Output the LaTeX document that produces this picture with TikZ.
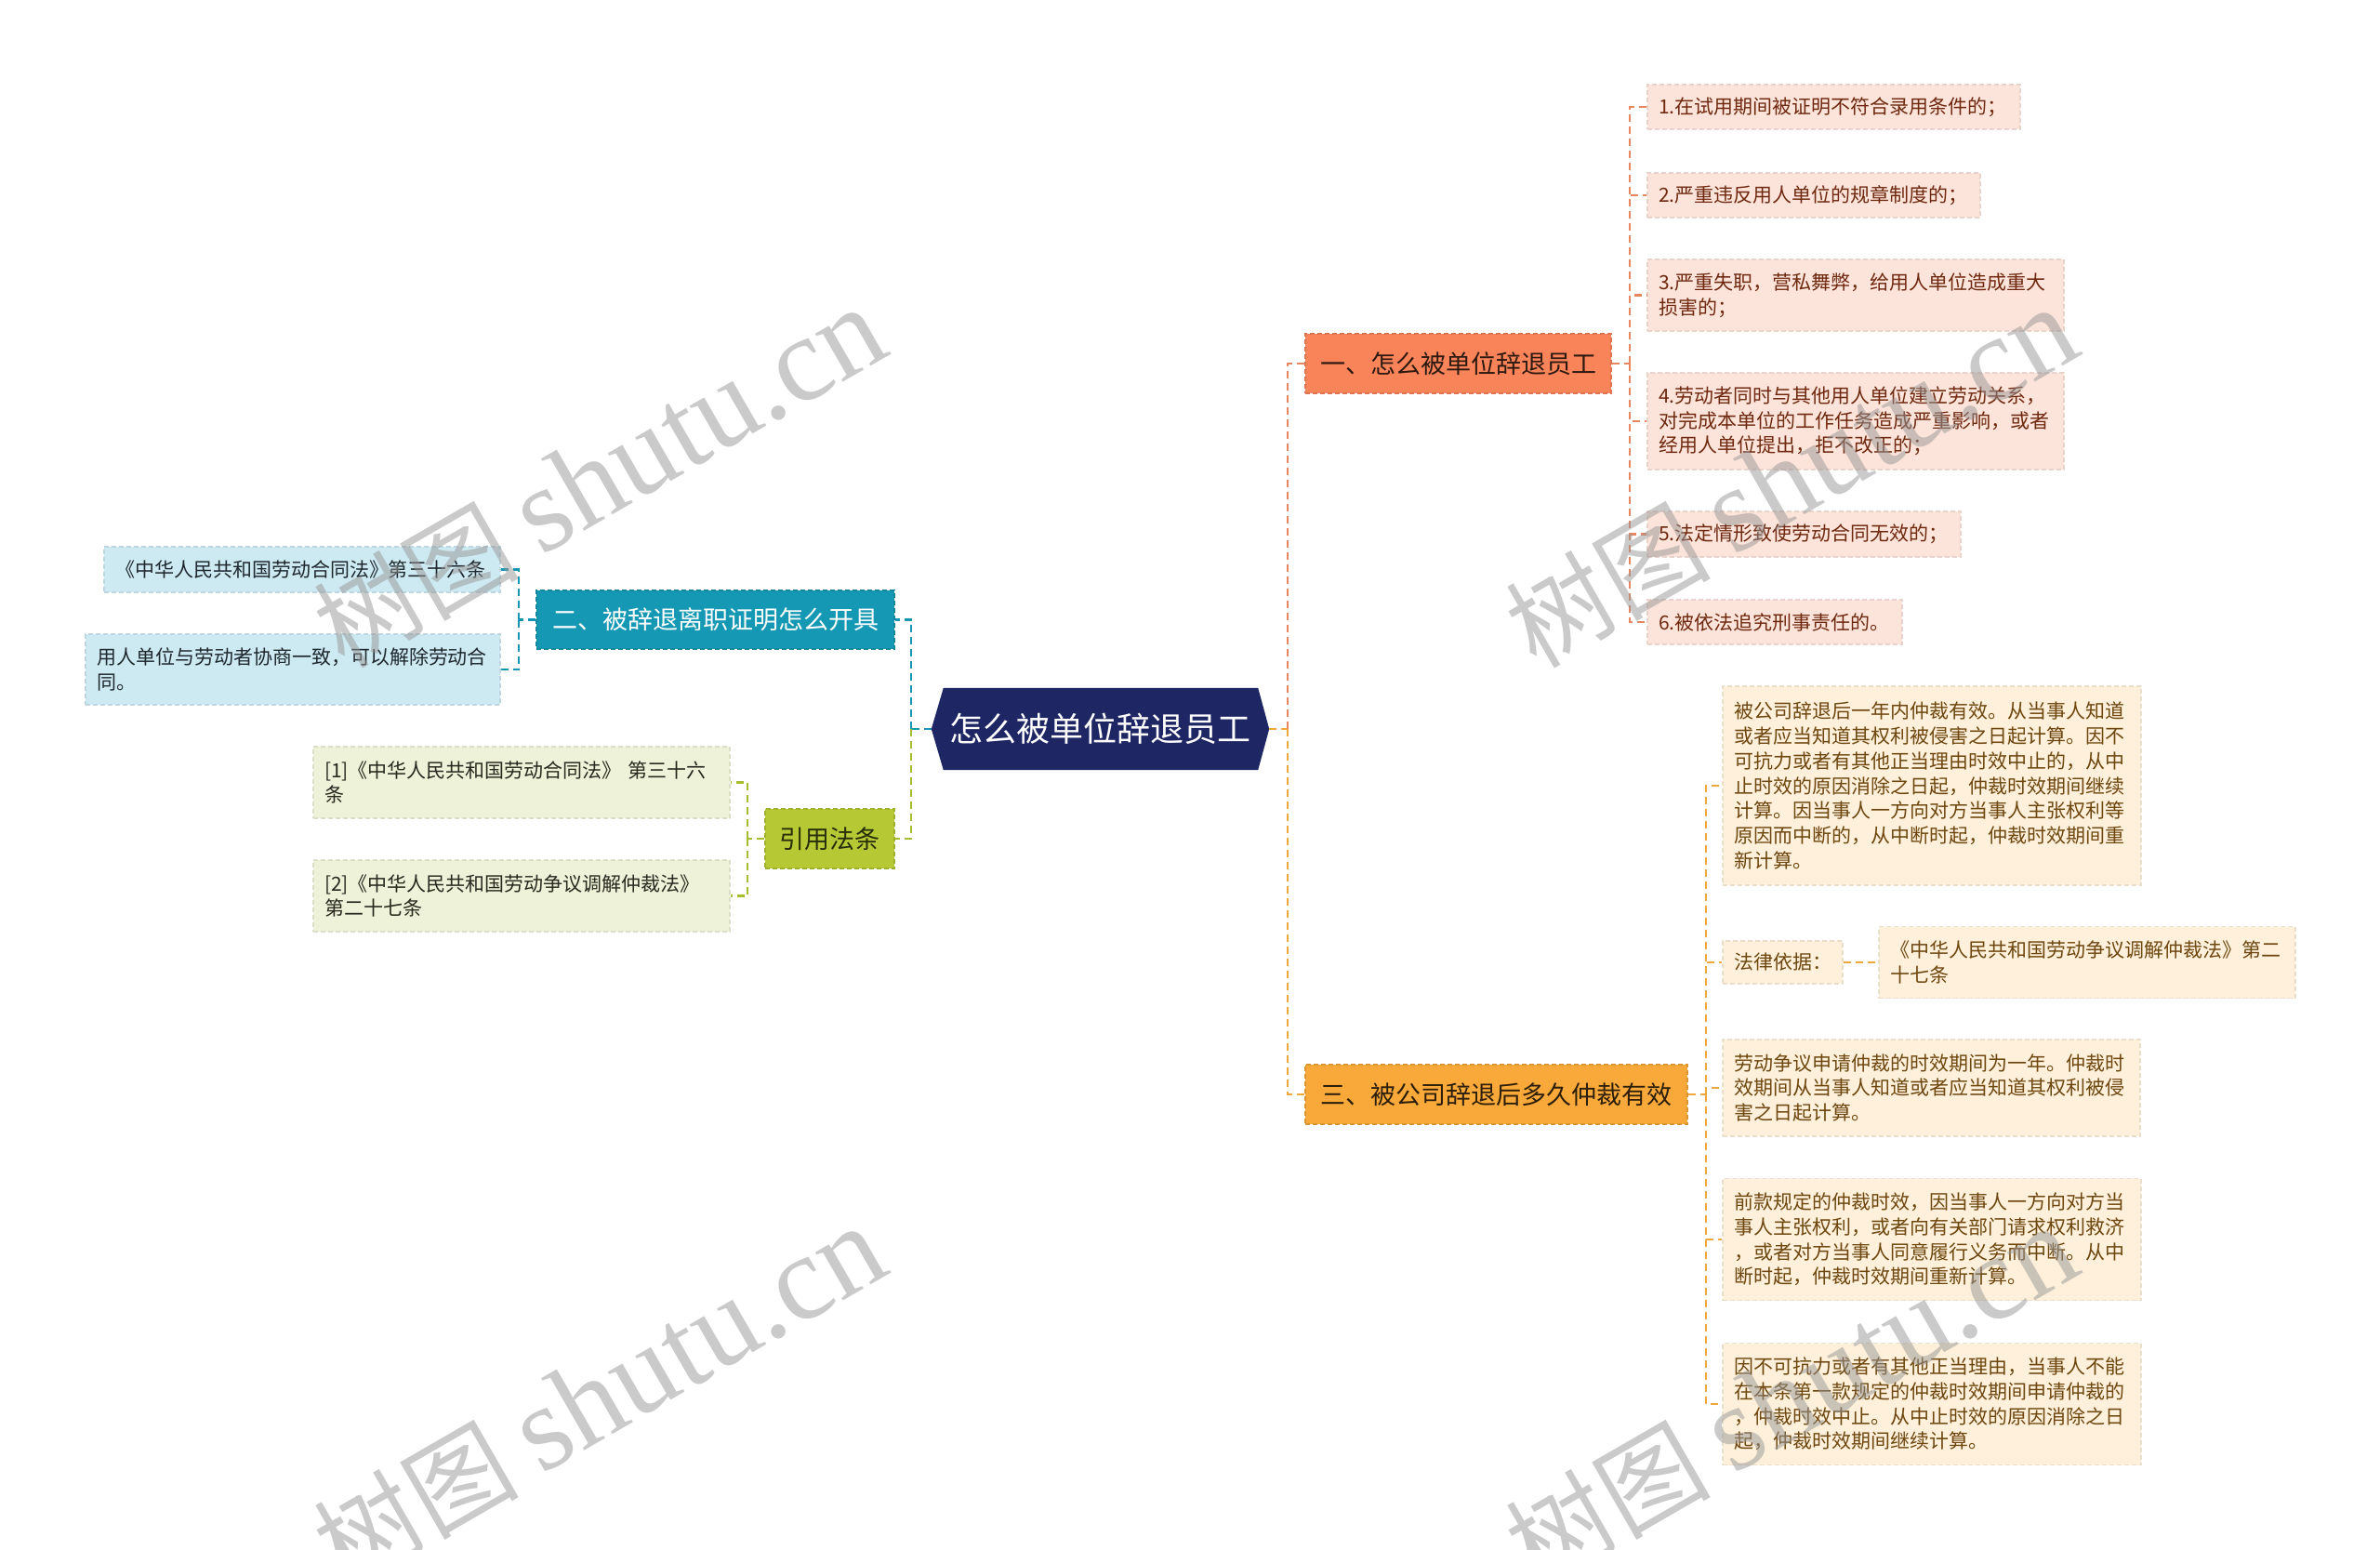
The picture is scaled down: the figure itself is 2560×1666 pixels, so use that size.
\documentclass[tikz,border=0pt]{standalone}
\usepackage{fontspec}
\setmainfont{Noto Sans CJK SC}
\newfontfamily\wmserif{Liberation Serif}
\usetikzlibrary{backgrounds}

\definecolor{navy}{RGB}{30,38,100}
\definecolor{fillA}{RGB}{249,132,90}
\definecolor{fillB}{RGB}{21,152,180}
\definecolor{fillC}{RGB}{248,169,58}
\definecolor{fillD}{RGB}{182,201,52}
\definecolor{leafR}{RGB}{253,228,218}
\definecolor{leafY}{RGB}{254,240,218}
\definecolor{leafL}{RGB}{205,233,242}
\definecolor{leafG}{RGB}{238,242,216}
\definecolor{txtR}{RGB}{110,40,15}
\definecolor{txtY}{RGB}{110,70,15}
\definecolor{txtL}{RGB}{30,40,45}
\definecolor{txtG}{RGB}{40,40,30}
\definecolor{txtA}{RGB}{45,25,15}
\definecolor{txtC}{RGB}{45,30,10}
\definecolor{txtD}{RGB}{40,45,10}
\definecolor{lineR}{RGB}{232,135,95}
\definecolor{lineY}{RGB}{240,168,60}
\definecolor{lineT}{RGB}{22,150,178}
\definecolor{lineG}{RGB}{168,188,48}
\definecolor{wmgray}{RGB}{150,150,150}

\tikzset{
  conn/.style={line width=2.2pt, dash pattern=on 8pt off 5pt},
  lnR/.style={conn, draw=lineR},
  lnY/.style={conn, draw=lineY},
  lnT/.style={conn, draw=lineT},
  lnG/.style={conn, draw=lineG},
  branchbox/.style={rectangle, inner sep=0pt, align=center,
    font=\fontsize{27pt}{32pt}\selectfont, line width=1.2pt, dash pattern=on 5pt off 3pt},
  leafbox/.style={rectangle, inner xsep=12pt, inner ysep=0pt, align=left,
    font=\fontsize{21pt}{26.7pt}\selectfont, line width=1.2pt, dash pattern=on 5pt off 3pt},
  leafR/.style={leafbox, fill=leafR, draw=leafR!92!black, text=txtR},
  leafY/.style={leafbox, fill=leafY, draw=leafY!92!black, text=txtY},
  leafL/.style={leafbox, fill=leafL, draw=leafL!92!black, text=txtL},
  leafG/.style={leafbox, fill=leafG, draw=leafG!92!black, text=txtG},
  wmark/.style={rotate=30, text=wmgray, text opacity=0.5, inner sep=0pt,
    font=\fontsize{110pt}{120pt}\selectfont},
}

\begin{document}
\begin{tikzpicture}[x=1pt,y=-1pt]
\useasboundingbox (0,0) rectangle (2560,1666);

% central node
\node[inner sep=0pt, minimum width=363pt, minimum height=88pt, text=white,
      font=\fontsize{36pt}{40pt}\selectfont] (c) at (1183.5,784) {怎么被单位辞退员工};
\begin{scope}[on background layer]
  \fill[white] (0,0) rectangle (2560,1666);
  \fill[navy] (c.west) -- ([xshift=13pt]c.north west) -- ([xshift=-12pt]c.north east)
    -- (c.east) -- ([xshift=-12pt]c.south east) -- ([xshift=13pt]c.south west) -- cycle;
\end{scope}

% main branches
\node[branchbox, fill=fillA, draw=fillA!88!black, text=txtA, minimum width=329pt, minimum height=64pt] (b1) at (1568.5,391) {一、怎么被单位辞退员工};
\node[branchbox, fill=fillC, draw=fillC!88!black, text=txtC, minimum width=411pt, minimum height=64pt] (b3) at (1609.5,1177) {三、被公司辞退后多久仲裁有效};
\node[branchbox, fill=fillB, draw=fillB!88!black, text=white, minimum width=385pt, minimum height=63pt] (b2) at (769.5,666.5) {二、被辞退离职证明怎么开具};
\node[branchbox, fill=fillD, draw=fillD!88!black, text=txtD, minimum width=139pt, minimum height=64pt] (b4) at (892.5,902) {引用法条};

% leaves of branch 1
\node[leafR, text width=377pt, minimum height=48pt] (r1) at (1972.5,115) {1.在试用期间被证明不符合录用条件的；};
\node[leafR, text width=334pt, minimum height=48pt] (r2) at (1951,210) {2.严重违反用人单位的规章制度的；};
\node[leafR, text width=424pt, minimum height=77pt] (r3) at (1996,317.5) {3.严重失职，营私舞弊，给用人单位造成重大\\损害的；};
\node[leafR, text width=424pt, minimum height=104pt] (r4) at (1996,453) {4.劳动者同时与其他用人单位建立劳动关系，\\对完成本单位的工作任务造成严重影响，或者\\经用人单位提出，拒不改正的；};
\node[leafR, text width=313pt, minimum height=49pt] (r5) at (1940.5,574.5) {5.法定情形致使劳动合同无效的；};
\node[leafR, text width=250pt, minimum height=48pt] (r6) at (1909,669) {6.被依法追究刑事责任的。};

% leaves of branch 3
\node[leafY, text width=426pt, minimum height=214pt] (y1) at (2078,845) {被公司辞退后一年内仲裁有效。从当事人知道\\或者应当知道其权利被侵害之日起计算。因不\\可抗力或者有其他正当理由时效中止的，从中\\止时效的原因消除之日起，仲裁时效期间继续\\计算。因当事人一方向对方当事人主张权利等\\原因而中断的，从中断时起，仲裁时效期间重\\新计算。};
\node[leafY, text width=105pt, minimum height=46pt] (y2) at (1917.5,1035) {法律依据：};
\node[leafY, text width=424pt, minimum height=77pt] (y2b) at (2245,1035) {《中华人民共和国劳动争议调解仲裁法》第二\\十七条};
\node[leafY, text width=425pt, minimum height=104pt] (y3) at (2077.5,1170) {劳动争议申请仲裁的时效期间为一年。仲裁时\\效期间从当事人知道或者应当知道其权利被侵\\害之日起计算。};
\node[leafY, text width=426pt, minimum height=131pt] (y4) at (2078,1333) {前款规定的仲裁时效，因当事人一方向对方当\\事人主张权利，或者向有关部门请求权利救济\\，或者对方当事人同意履行义务而中断。从中\\断时起，仲裁时效期间重新计算。};
\node[leafY, text width=426pt, minimum height=131pt] (y5) at (2078,1510) {因不可抗力或者有其他正当理由，当事人不能\\在本条第一款规定的仲裁时效期间申请仲裁的\\，仲裁时效中止。从中止时效的原因消除之日\\起，仲裁时效期间继续计算。};

% leaves of branch 2
\node[leafL, text width=402pt, minimum height=49pt] (l1) at (325,612.5) {《中华人民共和国劳动合同法》第三十六条};
\node[leafL, text width=422pt, minimum height=76pt] (l2) at (315,720) {用人单位与劳动者协商一致，可以解除劳动合\\同。};

% leaves of branch 4
\node[leafG, text width=424pt, minimum height=77pt] (g1) at (561,841.5) {[1]《中华人民共和国劳动合同法》 第三十六\\条};
\node[leafG, text width=424pt, minimum height=77pt] (g2) at (561,963.5) {[2]《中华人民共和国劳动争议调解仲裁法》\\第二十七条};

% junctions
\coordinate (jR) at (1385,784);
\coordinate (jL) at (980,784);
\coordinate (j1) at (1753,391);
\coordinate (j3) at (1835,1177);
\coordinate (j2) at (558,666.5);
\coordinate (j4) at (804,902);

% connectors right
\draw[lnY] (c.east) -- (jR);
\draw[lnR] (jR) |- (b1.west);
\draw[lnY] (jR) |- (b3.west);
\draw[lnR] (b1.east) -- (j1);
\foreach \n in {r1,r2,r3,r4,r5,r6} \draw[lnR] (j1) |- (\n.west);
\draw[lnY] (b3.east) -- (j3);
\foreach \n in {y1,y2,y3,y4,y5} \draw[lnY] (j3) |- (\n.west);
\draw[lnY] (y2.east) -- (y2b.west);

% connectors left
\draw[lnT] (c.west) -- (jL);
\draw[lnT] (jL) |- (b2.east);
\draw[lnG] (jL) |- (b4.east);
\draw[lnT] (b2.west) -- (j2);
\draw[lnT] (j2) |- (l1.east);
\draw[lnT] (j2) |- (l2.east);
\draw[lnG] (b4.west) -- (j4);
\draw[lnG] (j4) |- (g1.east);
\draw[lnG] (j4) |- (g2.east);

% watermarks
\node[wmark] (w1) at (645,514) {树图 {\wmserif\fontsize{130pt}{140pt}\selectfont shutu.cn}};
\node[wmark] (w2) at (645,1502) {树图 {\wmserif\fontsize{130pt}{140pt}\selectfont shutu.cn}};
\node[wmark] (w3) at (1927,514) {树图 {\wmserif\fontsize{130pt}{140pt}\selectfont shutu.cn}};
\node[wmark] (w4) at (1927,1502) {树图 {\wmserif\fontsize{130pt}{140pt}\selectfont shutu.cn}};
\end{tikzpicture}
\end{document}
